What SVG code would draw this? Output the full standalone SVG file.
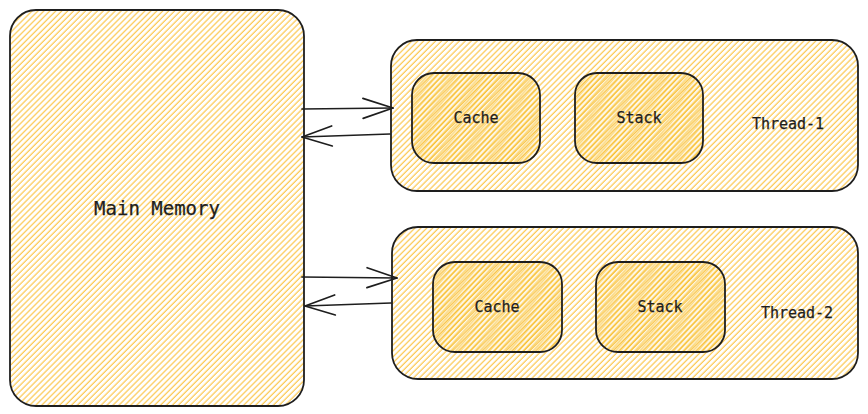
<svg xmlns="http://www.w3.org/2000/svg" width="868" height="414" viewBox="0 0 868 414">
<defs>
<pattern id="hach" patternUnits="userSpaceOnUse" width="4.2" height="4.2" patternTransform="rotate(45)">
<line x1="1" y1="0" x2="1" y2="4.2" stroke="#fab005" stroke-width="1" stroke-opacity="0.85"/>
</pattern>
<pattern id="hach2" patternUnits="userSpaceOnUse" width="3.6" height="3.6" patternTransform="rotate(42)">
<line x1="1" y1="0" x2="1" y2="3.6" stroke="#f5b400" stroke-width="1.1" stroke-opacity="0.6"/>
</pattern>
<marker id="ah" markerWidth="1" markerHeight="1" refX="0" refY="0" overflow="visible" orient="auto" markerUnits="userSpaceOnUse">
<path d="M-30,-10 L0,0 L-30,10" fill="none" stroke="#1e1e1e" stroke-width="1.7" stroke-linecap="round" stroke-linejoin="round"/>
</marker>
</defs>
<style>
.box{stroke:#1e1e1e;stroke-width:1.8;fill:url(#hach)}
.inner{stroke:#1e1e1e;stroke-width:1.8;fill:url(#hach2)}
.innerbg{fill:#fab005;fill-opacity:0.1;stroke:none}
.lbl{font-family:"DejaVu Sans Mono","Liberation Mono",monospace;fill:#1e1e1e;stroke:#1e1e1e;stroke-width:0.25;text-anchor:middle}
.conn{stroke:#1e1e1e;stroke-width:1.7;fill:none;stroke-linecap:round;marker-end:url(#ah)}
</style>
<rect width="868" height="414" fill="#ffffff"/>
<g id="main-memory">
<rect class="box" x="10" y="10" width="294" height="396" rx="26"/>
<text class="lbl" x="157" y="215" font-size="19">Main Memory</text>
</g>
<g id="thread-1">
<rect class="box" x="391" y="40" width="467" height="151" rx="26"/>
<text class="lbl" x="788" y="129" font-size="15">Thread-1</text>
</g>
<g id="cache-1">
<rect class="innerbg" x="412" y="73" width="128" height="90" rx="22"/>
<rect class="inner" x="412" y="73" width="128" height="90" rx="22"/>
<text class="lbl" x="476" y="123" font-size="15">Cache</text>
</g>
<g id="stack-1">
<rect class="innerbg" x="575" y="73" width="128" height="90" rx="22"/>
<rect class="inner" x="575" y="73" width="128" height="90" rx="22"/>
<text class="lbl" x="639" y="123" font-size="15">Stack</text>
</g>
<g id="thread-2">
<rect class="box" x="392" y="227" width="466" height="152" rx="26"/>
<text class="lbl" x="797" y="318" font-size="15">Thread-2</text>
</g>
<g id="cache-2">
<rect class="innerbg" x="433" y="262" width="129" height="90" rx="22"/>
<rect class="inner" x="433" y="262" width="129" height="90" rx="22"/>
<text class="lbl" x="497" y="312" font-size="15">Cache</text>
</g>
<g id="stack-2">
<rect class="innerbg" x="596" y="262" width="129" height="90" rx="22"/>
<rect class="inner" x="596" y="262" width="129" height="90" rx="22"/>
<text class="lbl" x="660" y="312" font-size="15">Stack</text>
</g>
<g id="connectors">
<path class="conn" d="M302,109 L393,108"/>
<path class="conn" d="M390,134 L302,137"/>
<path class="conn" d="M302,277 L397,278"/>
<path class="conn" d="M391,303 L305,306"/>
</g>
</svg>
